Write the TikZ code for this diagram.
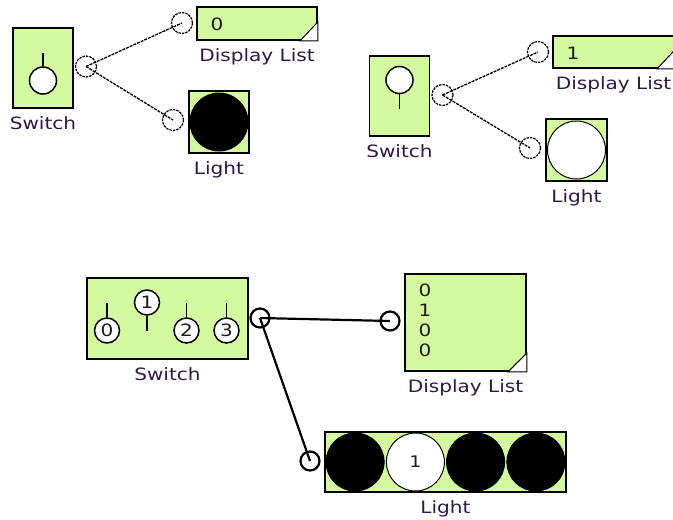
\documentclass[tikz,border=0pt]{standalone}
\usepackage{fontspec}
\newfontfamily\lblfont{DejaVu Sans}[FakeStretch=1.18]
\definecolor{blockgreen}{RGB}{212,250,160}
\definecolor{labelcol}{RGB}{48,24,70}
\definecolor{digitcol}{RGB}{30,26,22}
\tikzset{
 block/.style={draw=black, line width=1.8pt, fill=blockgreen, rectangle, inner sep=0pt},
 lbl/.style={font=\lblfont\fontsize{17}{17}\selectfont, text=labelcol, inner sep=0pt, anchor=base},
 digit/.style={font=\lblfont\fontsize{17}{20}\selectfont, text=digitcol, inner sep=0pt, anchor=base},
 knob/.style={circle, draw=black, fill=white, line width=1.5pt, inner sep=0pt, font=\lblfont\fontsize{17}{17}\selectfont, text=digitcol},
 dport/.style={circle, draw=black, line width=1.2pt, dash pattern=on 2.5pt off 1pt, minimum size=21pt, inner sep=0pt},
 sport/.style={circle, draw=black, line width=2.2pt, minimum size=19pt, inner sep=0pt},
 dwire/.style={line width=1.3pt, dash pattern=on 3pt off 1pt},
 swire/.style={line width=2.2pt},
 stem/.style={line width=1.5pt},
 lamp/.style={circle, draw=black, line width=1pt, inner sep=0pt, minimum size=58pt, font=\lblfont\fontsize{16}{16}\selectfont, text=digitcol},
 corner/.style={draw=black, fill=white, line width=1pt},
}
\begin{document}
\begin{tikzpicture}[x=1pt,y=-1pt]
\useasboundingbox (0,0) rectangle (673,520);
% ---------- top left ----------
\node[block, minimum width=60pt, minimum height=80pt] (sw1) at (43,68) {};
\node[knob, minimum size=27pt] (k1) at (43,80.5) {};
\coordinate (k1top) at (43,53);
\draw[stem] (k1.north) -- (k1top);
\node[lbl] (sw1l) at ([yshift=-21pt]sw1.south) {Switch};

\node[block, minimum width=120pt, minimum height=33pt] (dl1) at (257,23.5) {};
\node[digit] (dl1v) at (217,30.7) {0};
\draw[corner] (dl1.south east) -- ([xshift=-18pt]dl1.south east) -- ([yshift=19pt]dl1.south east) -- cycle;
\node[lbl] (dl1l) at ([yshift=-21pt]dl1.south) {Display List};

\node[block, minimum width=60pt, minimum height=62pt] (lt1) at (219,122) {};
\node[lamp, fill=black] (lamp1) at (lt1.center) {};
\node[lbl] (lt1l) at ([yshift=-21pt]lt1.south) {Light};

\node[dport] (sp1) at (86,66.5) {};
\node[dport] (dp1) at (182,23) {};
\node[dport] (lp1) at (173,120) {};
\draw[dwire] (sp1.center) -- (dp1.center);
\draw[dwire] (sp1.center) -- (lp1.center);

% ---------- top right ----------
\node[block, minimum width=60pt, minimum height=80pt] (sw2) at (399.5,96) {};
\node[knob, minimum size=27pt] (k2) at (399.5,80) {};
\coordinate (k2bot) at (399.5,109);
\draw[stem] (k2.south) -- (k2bot);
\node[lbl] (sw2l) at ([yshift=-21pt]sw2.south) {Switch};

\node[block, minimum width=121pt, minimum height=32pt] (dl2) at (613.5,52) {};
\node[digit] (dl2v) at (573,59) {1};
\draw[corner] (dl2.south east) -- ([xshift=-18pt]dl2.south east) -- ([yshift=19pt]dl2.south east) -- cycle;
\node[lbl] (dl2l) at ([yshift=-21pt]dl2.south) {Display List};

\node[block, minimum width=61pt, minimum height=62pt] (lt2) at (576.5,150) {};
\node[lamp, fill=white] (lamp2) at (lt2.center) {};
\node[lbl] (lt2l) at ([yshift=-21pt]lt2.south) {Light};

\node[dport] (sp2) at (442.5,95) {};
\node[dport] (dp2) at (538,52) {};
\node[dport] (lp2) at (530,148) {};
\draw[dwire] (sp2.center) -- (dp2.center);
\draw[dwire] (sp2.center) -- (lp2.center);

% ---------- bottom ----------
\node[block, minimum width=161pt, minimum height=81pt] (sw3) at (167.5,318.5) {};
\node[knob, minimum size=25pt] (b0) at (107,330.5) {0};
\node[knob, minimum size=25pt] (b1) at (147,302.5) {1};
\node[knob, minimum size=25pt] (b2) at (186.5,330.5) {2};
\node[knob, minimum size=25pt] (b3) at (226.5,330.5) {3};
\coordinate (b0t) at (107,303);
\coordinate (b1t) at (147,331);
\coordinate (b2t) at (186.5,303);
\coordinate (b3t) at (226.5,303);
\draw[stem] (b0.north) -- (b0t);
\draw[stem] (b1.south) -- (b1t);
\draw[stem] (b2.north) -- (b2t);
\draw[stem] (b3.north) -- (b3t);
\node[lbl] (sw3l) at ([yshift=-21pt]sw3.south) {Switch};

\node[block, minimum width=121pt, minimum height=97pt] (dl3) at (465.5,322.5) {};
\node[digit] (d30) at (425,296.7) {0};
\node[digit] (d31) at (425,316.7) {1};
\node[digit] (d32) at (425,336.7) {0};
\node[digit] (d33) at (425,356.7) {0};
\draw[corner] (dl3.south east) -- ([xshift=-19pt]dl3.south east) -- ([yshift=19pt]dl3.south east) -- cycle;
\node[lbl] (dl3l) at ([yshift=-21pt]dl3.south) {Display List};

\node[block, minimum width=241pt, minimum height=60pt] (lt3) at (445.5,462) {};
\node[lamp, fill=black] (l30) at (355.1,462) {};
\node[lamp, fill=white] (l31) at (415.4,462) {1};
\node[lamp, fill=black] (l32) at (475.6,462) {};
\node[lamp, fill=black] (l33) at (535.9,462) {};
\node[lbl] (lt3l) at ([yshift=-21pt]lt3.south) {Light};

\node[sport] (sp3) at (260,318) {};
\node[sport] (dp3) at (390,321) {};
\node[sport] (lp3) at (310,461) {};
\draw[swire] (sp3.center) -- (dp3.center);
\draw[swire] (sp3.center) -- (lp3.center);
\end{tikzpicture}
\end{document}
